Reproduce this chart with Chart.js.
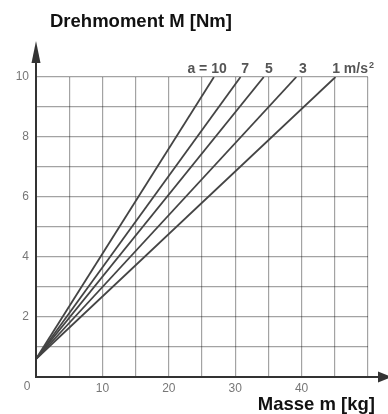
<!DOCTYPE html>
<html>
<head>
<meta charset="utf-8">
<script src="https://cdn.jsdelivr.net/npm/chart.js@4.4.0/dist/chart.umd.min.js"></script>
<style>
  html, body { margin: 0; padding: 0; background: #fff; }
  #wrap { width: 388px; height: 414px; }
</style>
</head>
<body>
<div id="wrap"><canvas id="c" width="388" height="414"></canvas></div>
<script>
// ---- data ----
const accelLabels = ['a = 10', '7', '5', '3', '1 m/s'];
const massAtTenNm = [26.8, 30.8, 34.3, 39.2, 45.1];   // kg where each line reaches 10 Nm
const torqueAtZero = 0.6;                              // Nm at m = 0
const labelMassPos = [22.8, 30.9, 34.5, 39.6, 44.6];   // kg, left edge of each curve label
const yTickLabels = [2, 4, 6, 8, 10];
const xTickLabels = [10, 20, 30, 40];
const yTitle = 'Drehmoment M [Nm]';
const xTitle = 'Masse m [kg]';

const FONT = '"Liberation Sans", Arial, Helvetica, sans-serif';

const datasets = massAtTenNm.map((m, i) => ({
  label: accelLabels[i],
  data: [{x: 0, y: torqueAtZero}, {x: m, y: 10}],
  showLine: true,
  borderColor: '#444',
  borderWidth: 1.8,
  pointRadius: 0,
  fill: false
}));

const decor = {
  id: 'decor',
  afterDraw(chart) {
    const ctx = chart.ctx;
    const xs = chart.scales.x, ys = chart.scales.y;
    const x0 = xs.getPixelForValue(0), y0 = ys.getPixelForValue(0);
    ctx.save();
    // axes
    ctx.strokeStyle = '#333';
    ctx.fillStyle = '#333';
    ctx.lineWidth = 2;
    ctx.beginPath();
    ctx.moveTo(x0, y0 + 1); ctx.lineTo(x0, 60);
    ctx.moveTo(x0 - 1, y0); ctx.lineTo(380, y0);
    ctx.stroke();
    ctx.beginPath();
    ctx.moveTo(x0, 41); ctx.lineTo(x0 - 4.5, 63); ctx.lineTo(x0 + 4.5, 63); ctx.closePath();
    ctx.fill();
    ctx.beginPath();
    ctx.moveTo(392, y0); ctx.lineTo(378, y0 - 5.5); ctx.lineTo(378, y0 + 5.5); ctx.closePath();
    ctx.fill();
    // origin label
    ctx.fillStyle = '#777';
    ctx.font = '12px ' + FONT;
    ctx.textAlign = 'center';
    ctx.textBaseline = 'middle';
    ctx.fillText('0', 27, 387);
    // axis titles
    ctx.fillStyle = '#111';
    ctx.font = 'bold 18.5px ' + FONT;
    ctx.textBaseline = 'alphabetic';
    ctx.textAlign = 'left';
    ctx.fillText(yTitle, 50, 27);
    ctx.textAlign = 'right';
    ctx.fillText(xTitle, 375, 410);
    // curve labels
    ctx.fillStyle = '#555';
    ctx.font = 'bold 14px ' + FONT;
    ctx.textAlign = 'left';
    accelLabels.forEach((t, i) => {
      const px = xs.getPixelForValue(labelMassPos[i]);
      ctx.fillText(t, px, 73);
      if (i === accelLabels.length - 1) {
        const w = ctx.measureText(t).width;
        ctx.font = 'bold 9px ' + FONT;
        ctx.fillText('2', px + w + 1, 67.5);
        ctx.font = 'bold 14px ' + FONT;
      }
    });
    ctx.restore();
  }
};

new Chart(document.getElementById('c'), {
  type: 'scatter',
  data: { datasets },
  options: {
    responsive: false,
    animation: false,
    devicePixelRatio: 1,
    layout: { padding: { top: 77, right: 20, left: 0, bottom: 0 } },
    plugins: { legend: { display: false }, title: { display: false }, tooltip: { enabled: false } },
    scales: {
      x: {
        type: 'linear', min: 0, max: 50,
        afterFit(s) { s.height = 37; },
        border: { display: false },
        grid: { color: 'rgba(0,0,0,0.36)', lineWidth: 1.2, drawTicks: false },
        ticks: {
          stepSize: 5, padding: 4, color: '#777', maxRotation: 0,
          font: { size: 12, family: FONT },
          callback: v => xTickLabels.includes(v) ? String(v) : ''
        }
      },
      y: {
        type: 'linear', min: 0, max: 10,
        afterFit(s) { s.width = 36; },
        border: { display: false },
        grid: { color: 'rgba(0,0,0,0.36)', lineWidth: 1.2, drawTicks: false },
        ticks: {
          stepSize: 1, padding: 7, color: '#777',
          font: { size: 12, family: FONT },
          callback: v => yTickLabels.includes(v) ? String(v) : ''
        }
      }
    }
  },
  plugins: [decor]
});
</script>
</body>
</html>
